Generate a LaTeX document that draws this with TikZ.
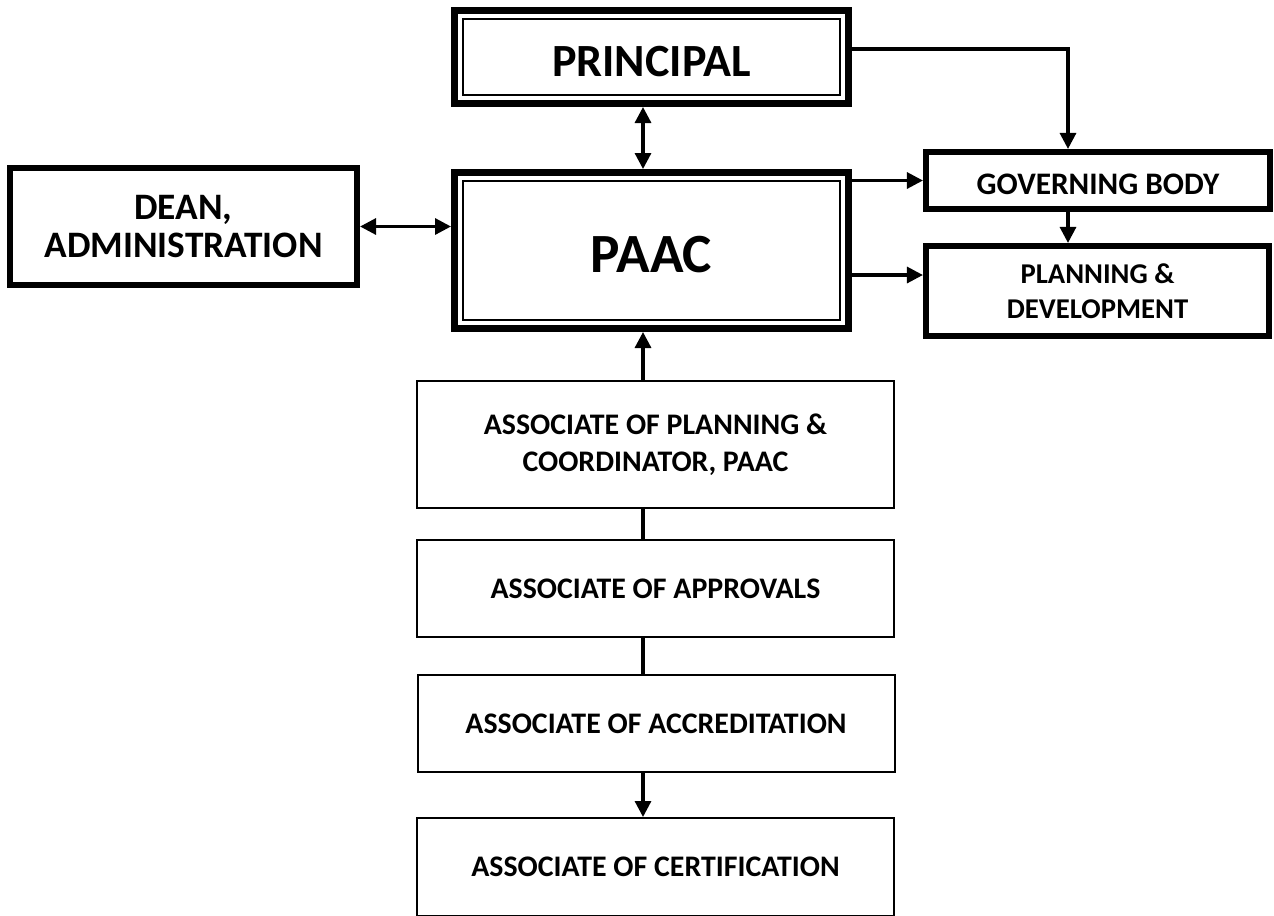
\documentclass[tikz,border=0pt]{standalone}
\usepackage{fontspec}
\setmainfont{Carlito}
\usetikzlibrary{arrows.meta,calc}
\begin{document}
\begin{tikzpicture}[x=0.75pt,y=-0.75pt,
  heavy/.style={draw, line width=5.25pt, inner sep=0pt, align=center},
  mid/.style={draw, line width=4.6pt, inner sep=0pt, align=center},
  light/.style={draw, line width=1.5pt, inner sep=0pt, align=center,
     minimum width={477*0.75pt}},
  conn/.style={line width=2.4pt},
  arr/.style={conn, -{Triangle[length=12pt,width=12pt]}},
  darr/.style={conn, {Triangle[length=12pt,width=12pt]}-{Triangle[length=12pt,width=12pt]}},
  inner/.style={line width=1.8pt},
  fpr/.style={font=\fontsize{34.6pt}{36pt}\selectfont\bfseries, text height=29.4pt, text depth=0pt},
  fpa/.style={font=\fontsize{41.5pt}{44pt}\selectfont\bfseries, text height=33.7pt, text depth=0pt},
  fdean/.style={font=\fontsize{28pt}{28pt}\selectfont\bfseries},
  fgov/.style={font=\fontsize{23.5pt}{26pt}\selectfont\bfseries, text height=20.9pt, text depth=0pt},
  fpd/.style={font=\fontsize{21.5pt}{26pt}\selectfont\bfseries},
  fas/.style={font=\fontsize{22.4pt}{28pt}\selectfont\bfseries},
]
\path[use as bounding box] (0,0) rectangle (1274,915);
\clip (0,0) rectangle (1274,915);

\coordinate (vx) at (643,0);
\coordinate (gx) at (1068,0);

% nodes
\node[heavy, fpr, minimum width={394*0.75pt}, minimum height={93*0.75pt}] (principal) at (651.5,57) {PRINCIPAL};
\node[heavy, fpa, minimum width={394*0.75pt}, minimum height={156*0.75pt}] (paac) at (651.5,250.5) {PAAC};
\node[mid, fdean, minimum width={347*0.75pt}, minimum height={117*0.75pt}] (dean) at (183.5,226.5) {DEAN,\\ADMINISTRATION};
\node[mid, fgov, minimum width={344*0.75pt}, minimum height={57*0.75pt}] (gov) at (1098,180.5) {GOVERNING BODY};
\node[mid, fpd, minimum width={343*0.75pt}, minimum height={90*0.75pt}] (plan) at (1097.5,291) {PLANNING \&\\DEVELOPMENT};

\node[light, fas, minimum height={127*0.75pt}] (as1) at (655.5,444.5) {ASSOCIATE OF PLANNING \&\\COORDINATOR, PAAC};
\node[light, fas, minimum height={97*0.75pt}] (as2) at (655.5,588.5) {ASSOCIATE OF APPROVALS};
\node[light, fas, minimum height={97*0.75pt}] (as3) at (656,723.5) {ASSOCIATE OF ACCREDITATION};
\node[light, fas, minimum height={98*0.75pt}] (as4) at (655.5,867) {ASSOCIATE OF CERTIFICATION};

% inner lines of double boxes
\draw[inner] ($(principal.north west)+(12,12)$) rectangle ($(principal.south east)+(-12,-12)$);
\draw[inner] ($(paac.north west)+(12,12)$) rectangle ($(paac.south east)+(-12,-12)$);

% connectors
\draw[darr] (principal.south -| vx) -- (paac.north -| vx);
\draw[darr] (dean.east) -- (paac.west |- dean.east);
\coordinate (pr) at ($(principal.east)+(0,-8)$);
\draw[arr] (pr) -| (gov.north -| gx);
\draw[arr] (paac.east |- gov.west) -- (gov.west);
\coordinate (pw) at ($(plan.west)+(0,-16)$);
\draw[arr] (paac.east |- pw) -- (pw);
\draw[arr] (gov.south -| gx) -- (plan.north -| gx);
\draw[arr] (as1.north -| vx) -- (paac.south -| vx);
\draw[conn] (as1.south -| vx) -- (as2.north -| vx);
\draw[conn] (as2.south -| vx) -- (as3.north -| vx);
\draw[arr] (as3.south -| vx) -- (as4.north -| vx);
\end{tikzpicture}
\end{document}
